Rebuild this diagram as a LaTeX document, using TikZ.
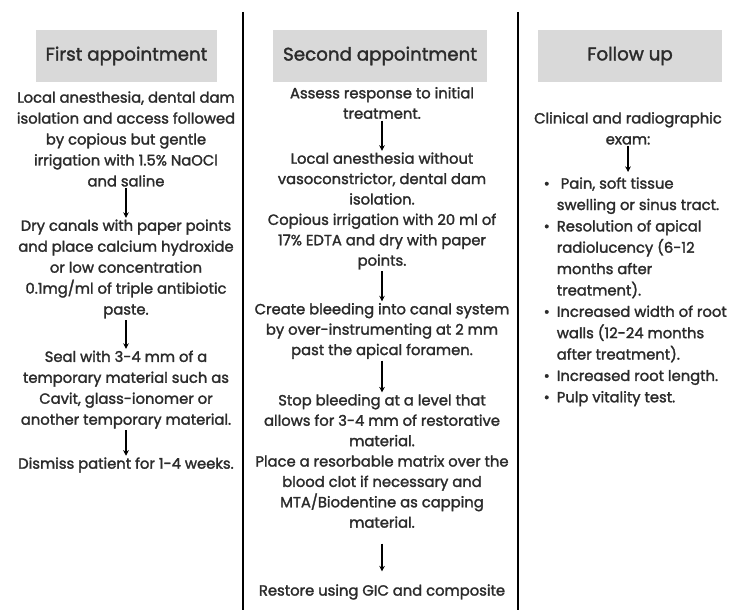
\documentclass[tikz,border=0pt]{standalone}
\usepackage{fontspec}
\setmainfont{Poppins}[BoldFont=Poppins,BoldFeatures={FakeBold=1.8}]
\usepackage{xcolor}
\usepackage{tikz}
\usetikzlibrary{arrows.meta}
\definecolor{RTInk}{HTML}{2B2B2B}
\definecolor{RTHead}{HTML}{D9D9D9}

\begin{document}
\begin{tikzpicture}[x=1cm,y=1cm,
  headbox/.style={fill=RTHead,minimum height=1.3cm,text=RTInk,font=\fontsize{13}{15}\selectfont\bfseries},
  stepnode/.style={align=center,inner sep=1pt,text=RTInk,font=\fontsize{10.5}{14.9}\selectfont\bfseries},
  flow/.style={-{Stealth[length=4pt,width=4pt]},line width=0.9pt}]
\path[use as bounding box] (0,0) rectangle (18.225,15.25);
% column rules
\draw[line width=1.6pt] (6.075,14.95) -- (6.075,0);
\draw[line width=1.6pt] (12.95,14.95) -- (12.95,0);
% headers
\node[headbox,minimum width=4.525cm] (h1) at (3.1625,13.85) {First appointment};
\node[headbox,minimum width=5.35cm] (h2) at (9.50,13.85) {Second appointment};
\node[headbox,minimum width=4.60cm] (h3) at (15.75,13.85) {Follow up};
% first appointment
\node[stepnode] (a1) at (3.15,11.775) {Local anesthesia, dental dam\\isolation and access followed\\by copious but gentle\\irrigation with 1.5\% NaOCl\\and saline};
\node[stepnode] (a2) at (3.15,8.525) {Dry canals with paper points\\and place calcium hydroxide\\or low concentration\\0.1mg/ml of triple antibiotic\\paste.};
\node[stepnode] (a3) at (3.15,5.51) {Seal with 3-4 mm of a\\temporary material such as\\Cavit, glass-ionomer or\\another temporary material.};
\node[stepnode] (a4) at (3.15,3.625) {Dismiss patient for 1-4 weeks.};
\draw[flow] (a1.south) -- (a2.north);
\draw[flow] (a2.south) -- (a3.north);
\draw[flow] (a3.south) -- (a4.north);
% second appointment
\node[stepnode,font=\fontsize{10.5}{14.5}\selectfont\bfseries] (b1) at (9.55,12.675) {Assess response to initial\\treatment.};
\node[stepnode,font=\fontsize{10.5}{14.5}\selectfont\bfseries] (b2) at (9.55,9.975) {Local anesthesia without\\vasoconstrictor, dental dam\\isolation.\\Copious irrigation with 20 ml of\\17\% EDTA and dry with paper\\points.};
\node[stepnode,font=\fontsize{10.5}{14.5}\selectfont\bfseries] (b3) at (9.55,6.975) {Create bleeding into canal system\\by over-instrumenting at 2 mm\\past the apical foramen.};
\node[stepnode,font=\fontsize{10.5}{14.5}\selectfont\bfseries] (b4) at (9.55,3.725) {Stop bleeding at a level that\\allows for 3-4 mm of restorative\\material.\\Place a resorbable matrix over the\\blood clot if necessary and\\MTA/Biodentine as capping\\material.};
\node[stepnode] (b5) at (9.55,0.45) {Restore using GIC and composite};
\draw[flow] (b1.south) -- (b2.north);
\draw[flow] (b2.south) -- (b3.north);
\draw[flow] (b3.south) -- (b4.north);
\draw[flow,shorten <=10pt,shorten >=8pt] (b4.south) -- (b5.north);
% follow up
\node[stepnode] (c1) at (15.70,12.04) {Clinical and radiographic\\exam:};
\node[stepnode,align=left,anchor=north west,font=\fontsize{10.5}{15.2}\selectfont\bfseries] (c2) at (13.55,10.95) {%
  \begin{tabular}{@{}l@{\hspace{5pt}}l@{}}
  \textbullet & \ Pain, soft tissue\\
   & swelling or sinus tract.\\
  \textbullet & Resolution of apical\\
   & radiolucency (6-12\\
   & months after\\
   & treatment).\\
  \textbullet & Increased width of root\\
   & walls (12-24 months\\
   & after treatment).\\
  \textbullet & Increased root length.\\
  \textbullet & Pulp vitality test.
  \end{tabular}};
\draw[flow] (c1.south) -- (c1.south |- c2.north);
\end{tikzpicture}
\end{document}
